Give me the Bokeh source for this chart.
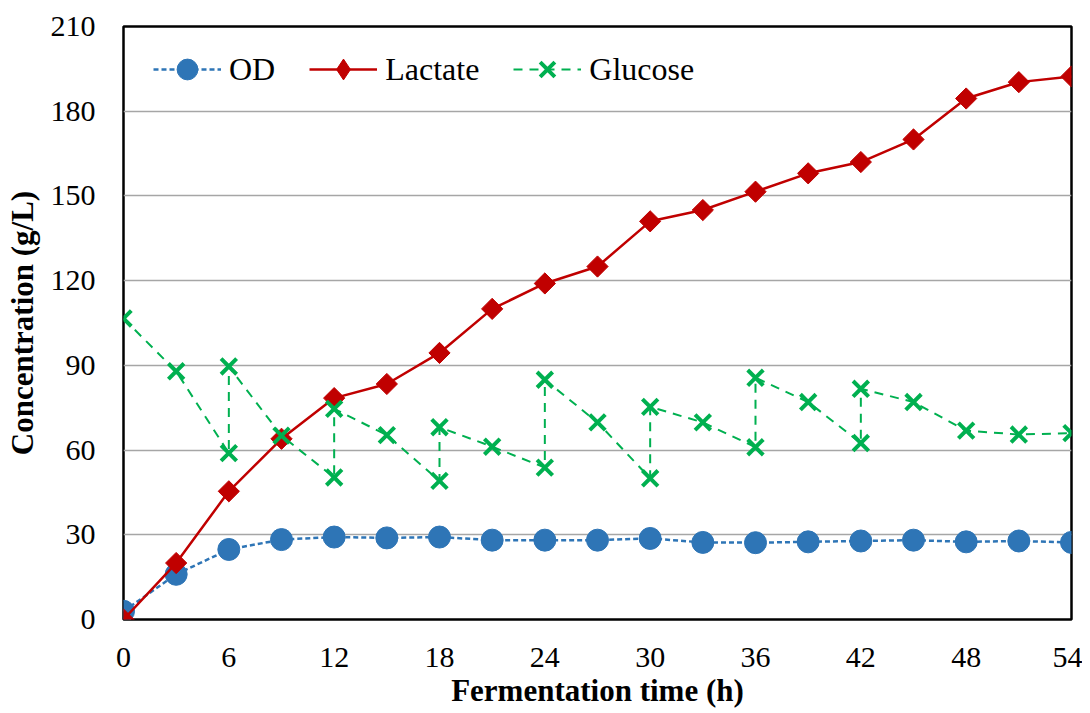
from bokeh.plotting import figure
from bokeh.models import Range1d, FixedTicker, Legend
from bokeh.embed import file_html
from bokeh.resources import INLINE
import numpy as np

time = [0, 3, 6, 9, 12, 15, 18, 21, 24, 27, 30, 33, 36, 39, 42, 45, 48, 51, 54]
od = [2.9, 16.0, 24.8, 28.3, 29.2, 28.9, 29.2, 28.1, 28.1, 28.1, 28.7, 27.3, 27.2, 27.5, 27.8, 28.1, 27.5, 27.8, 27.3]
lactate = [0, 20, 45.4, 64, 78.4, 83.4, 94.4, 110, 119, 125, 141, 145, 151.5, 158, 162, 170, 184.5, 190.3, 192.3]
glucose_time = [0, 3, 6, 6, 9, 12, 12, 15, 18, 18, 21, 24, 24, 27, 30, 30, 33, 36, 36, 39, 42, 42, 45, 48, 51, 54]
glucose = [106.6, 87.9, 58.9, 89.6, 65.1, 50.3, 74.6, 65.3, 49.1, 68.1, 61.2, 53.8, 84.9, 69.8, 50.0, 75.3,
           69.8, 61.0, 85.6, 77.0, 62.5, 81.7, 77.0, 66.9, 65.5, 66.0]
x_ticks = [0, 6, 12, 18, 24, 30, 36, 42, 48, 54]
y_ticks = [0, 30, 60, 90, 120, 150, 180, 210]

FONT = "Liberation Serif"
C_OD = "#2E75B6"
C_LAC = "#C00000"
C_GLU = "#00B050"

p = figure(width=1082, height=710, output_backend="svg", toolbar_location=None,
           x_range=Range1d(0, 54), y_range=Range1d(0, 210),
           min_border_left=123, min_border_right=11, min_border_top=26, min_border_bottom=91)

p.outline_line_color = "black"
p.outline_line_width = 2.5
p.xgrid.grid_line_color = None
p.ygrid.grid_line_color = "#A6A6A6"
p.ygrid.grid_line_width = 1.5

p.xaxis.ticker = FixedTicker(ticks=x_ticks)
p.yaxis.ticker = FixedTicker(ticks=y_ticks)
for ax in (p.xaxis, p.yaxis):
    ax.axis_line_color = None
    ax.major_tick_line_color = None
    ax.minor_tick_line_color = None
    ax.major_tick_out = 0
    ax.major_tick_in = 0
    ax.major_label_text_font = FONT
    ax.major_label_text_font_size = "30px"
    ax.major_label_text_color = "black"
    ax.axis_label_text_font = FONT
    ax.axis_label_text_font_size = "31px"
    ax.axis_label_text_font_style = "bold"
    ax.axis_label_text_color = "black"

p.xaxis.axis_label = "Fermentation time (h)"
p.yaxis.axis_label = "Concentration (g/L)"
p.xaxis.major_label_standoff = 28
p.xaxis.axis_label_standoff = 3
p.yaxis.major_label_standoff = 28
p.yaxis.axis_label_standoff = 8

# OD
r1 = p.line(time, od, line_color=C_OD, line_width=2.5, line_dash="5 3")
s1 = p.scatter(time, od, marker="circle", size=22, fill_color=C_OD, line_color=C_OD)
# Lactate
r2 = p.line(time, lactate, line_color=C_LAC, line_width=2.5)
s2 = p.scatter(time, lactate, marker="square", angle=np.pi / 4, size=15, fill_color=C_LAC, line_color=C_LAC)
# legend-only diamond glyph (single point far outside the visible range)
s2_leg = p.scatter(x=[-100], y=[-100], marker="diamond", size=20, fill_color=C_LAC, line_color=C_LAC)
# Glucose
r3 = p.line(glucose_time, glucose, line_color=C_GLU, line_width=2, line_dash="9 7")
s3 = p.scatter(glucose_time, glucose, marker="x", size=22, line_color=C_GLU, line_width=4)

legend = Legend(items=[("OD", [r1, s1]), ("Lactate", [r2, s2_leg]), ("Glucose", [r3, s3])],
                location=(30, 524), orientation="horizontal")
legend.label_text_font = "Liberation Serif, serif"
legend.label_text_font_size = "32px"
legend.label_text_color = "black"
legend.glyph_width = 68
legend.glyph_height = 52
legend.label_height = 52
legend.label_standoff = 8
legend.spacing = 34
legend.margin = 0
legend.padding = 0
legend.border_line_color = None
legend.background_fill_alpha = 0
p.add_layout(legend)

open("out.html", "w").write(file_html(p, INLINE))
